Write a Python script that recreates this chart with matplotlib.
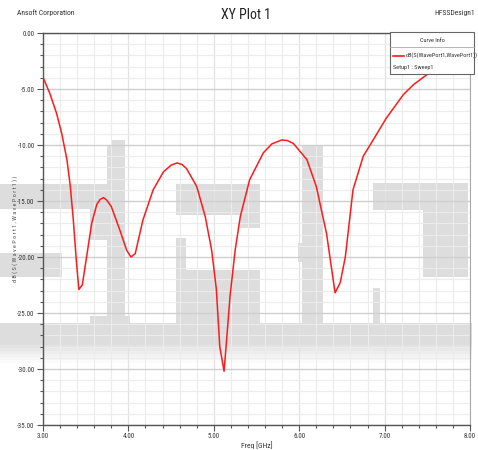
import matplotlib
matplotlib.use("Agg")
import matplotlib.pyplot as plt
from matplotlib.patches import Rectangle
from matplotlib.lines import Line2D
from matplotlib import font_manager
import numpy as np

names = {f.name for f in font_manager.fontManager.ttflist}
cands = ['Liberation Sans Narrow', 'DejaVu Sans Condensed', 'Roboto Condensed', 'Open Sans Condensed',
         'Liberation Sans', 'DejaVu Sans']
fams = [c for c in cands if c in names] or ['DejaVu Sans']
plt.rcParams['font.family'] = fams
narrow = fams[0] in ('Liberation Sans Narrow', 'DejaVu Sans Condensed', 'Roboto Condensed',
                     'Open Sans Condensed')
k = 1.0 if narrow else 0.85

# ---- data ----
freq_ghz = [3.00, 3.08, 3.16, 3.22, 3.28, 3.32, 3.355, 3.39, 3.42, 3.46, 3.51, 3.57, 3.63, 3.67,
            3.71, 3.75, 3.80, 3.90, 3.98, 4.03, 4.08, 4.17, 4.29, 4.41, 4.50, 4.57, 4.63, 4.68,
            4.80, 4.90, 4.975, 5.03, 5.07, 5.12, 5.15, 5.19, 5.25, 5.31, 5.42, 5.58, 5.68, 5.795,
            5.86, 5.93, 6.09, 6.20, 6.32, 6.42, 6.48, 6.54, 6.63, 6.75, 6.87, 7.02, 7.22, 7.34,
            7.49, 7.60]
s11_db = [-3.95, -5.4, -7.2, -9.0, -11.3, -13.7, -16.7, -20.3, -22.9, -22.5, -20.0, -17.0, -15.3, -14.85,
          -14.7, -14.95, -15.5, -17.6, -19.4, -20.0, -19.7, -16.7, -14.0, -12.4, -11.8, -11.6, -11.75, -12.1,
          -13.7, -16.4, -19.4, -22.9, -28.0, -30.2, -27.4, -23.5, -19.4, -16.4, -13.1, -10.7, -9.9, -9.55,
          -9.6, -9.85, -11.3, -13.7, -17.9, -23.2, -22.3, -20.0, -14.0, -11.0, -9.5, -7.6, -5.5, -4.6,
          -3.75, -3.2]
x_ticks = [3.0, 4.0, 5.0, 6.0, 7.0, 8.0]
y_ticks = [0, -5, -10, -15, -20, -25, -30, -35]

W, H = 478, 450
fig = plt.figure(figsize=(W / 100, H / 100), dpi=100)
fig.patch.set_facecolor('white')

def fx(px):
    return px / W

def fy(py):
    return 1 - py / H

ax_l, ax_r, ax_t, ax_b = 43, 470, 33, 425
ax = fig.add_axes([fx(ax_l), fy(ax_b), fx(ax_r - ax_l), (ax_b - ax_t) / H])
ax.set_zorder(2)
ax.patch.set_alpha(0)

# watermark blotches (decorative background)
wm = [(0, 184, 120, 209), (107, 145, 125, 323), (112, 140, 125, 145), (90, 209, 107, 240),
      (0, 253, 62, 277), (0, 323, 472, 345), (90, 316, 130, 323),
      (176, 184, 240, 215), (240, 184, 260, 228), (176, 238, 186, 323), (186, 270, 260, 323),
      (302, 145, 323, 323), (298, 243, 302, 262),
      (373, 183, 468, 210), (423, 210, 468, 277), (373, 288, 380, 323)]
for (x0, y0, x1, y1) in wm:
    fig.patches.append(Rectangle((fx(x0), fy(y1)), fx(x1 - x0), (y1 - y0) / H,
                                 transform=fig.transFigure, facecolor='#dddddd',
                                 edgecolor='none', zorder=1))
for i, a in enumerate(np.linspace(0.8, 0.1, 6)):
    y0 = 345 + i * 3
    fig.patches.append(Rectangle((fx(0), fy(y0 + 3)), fx(472), 3 / H,
                                 transform=fig.transFigure, facecolor='#dddddd',
                                 edgecolor='none', alpha=a, zorder=1))

ax.plot(freq_ghz, s11_db, color='#ff1a1a', lw=1.1, zorder=5)

ax.set_xlim(3.0, 8.0)
ax.set_ylim(-35, 0)
ax.set_xticks(x_ticks)
ax.set_yticks(y_ticks)
ax.set_xticks(np.arange(3.0, 8.01, 0.2), minor=True)
ax.set_yticks(np.arange(-35, 0.1, 1), minor=True)
ax.set_xticklabels([f"{v:.2f}" for v in x_ticks])
ax.set_yticklabels([f"{v:.2f}" for v in y_ticks])
ax.grid(which='minor', color='#ececec', lw=0.8)
ax.grid(which='major', axis='y', color='#cfcfcf', lw=1.0)
ax.grid(which='major', axis='x', color='#e2e2e2', lw=0.9)
ax.set_axisbelow(True)
ax.tick_params(which='both', direction='out', labelsize=5 * k, colors='#555555',
               labelcolor='#333333', pad=2)
ax.tick_params(which='major', length=4, width=0.8)
ax.tick_params(which='minor', length=2.5, width=0.8)
for s in ['left', 'bottom', 'top']:
    ax.spines[s].set_color('#555555')
    ax.spines[s].set_linewidth(1.0)
ax.spines['right'].set_color('#aaaaaa')
ax.spines['right'].set_linewidth(0.8)

ax.set_xlabel('Freq [GHz]', fontsize=5.5 * k, color='#333333', labelpad=1)
fig.text(fx(15), fy(229), 'd B ( S ( W a v e P o r t 1 , W a v e P o r t 1 ) )', rotation=90,
         ha='center', va='center', fontsize=4.5 * k, color='#555555', zorder=3)

fig.text(fx(246), fy(15), 'XY Plot 1', ha='center', va='center', fontsize=10 * k, color='#222222')
fig.text(fx(17), fy(13), 'Ansoft Corporation', ha='left', va='center', fontsize=5.5 * k, color='#333333')
fig.text(fx(475), fy(13), 'HFSSDesign1', ha='right', va='center', fontsize=5.5 * k, color='#333333')

# legend box (Curve Info)
lx0, ly0, lx1, ly1 = 390, 32, 474, 74
fig.patches.append(Rectangle((fx(lx0), fy(ly1)), fx(lx1 - lx0), (ly1 - ly0) / H,
                             transform=fig.transFigure, facecolor='white',
                             edgecolor='#666666', lw=0.8, zorder=10))
fig.lines.append(Line2D([fx(lx0), fx(lx1)], [fy(47), fy(47)], transform=fig.transFigure,
                        color='#aaaaaa', lw=0.6, zorder=11))
fig.text(fx((lx0 + lx1) / 2), fy(40), 'Curve Info', ha='center', va='center',
         fontsize=4.5 * k, color='#333333', zorder=12)
fig.lines.append(Line2D([fx(393), fx(404)], [fy(55.5), fy(55.5)], transform=fig.transFigure,
                        color='#ff1a1a', lw=1.2, zorder=11))
leg_fs = 4.5 if narrow else 3.6
fig.text(fx(406), fy(55.5), 'dB(S(WavePort1,WavePort1))', ha='left', va='center',
         fontsize=leg_fs, color='#333333', zorder=12)
fig.text(fx(393), fy(68), 'Setup1 : Sweep1', ha='left', va='center',
         fontsize=4.5 * k, color='#333333', zorder=12)

fig.savefig('out.png', dpi=100, facecolor='white')
